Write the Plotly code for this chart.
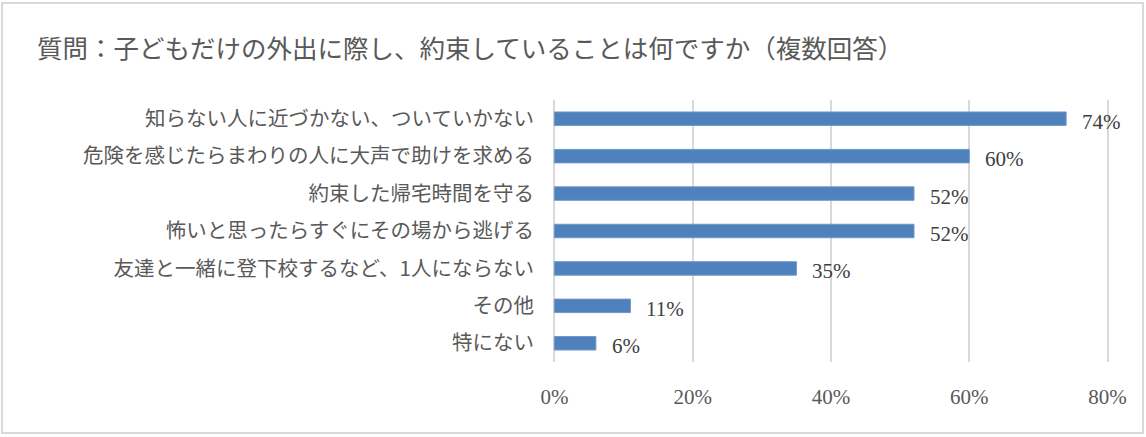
import plotly.graph_objects as go

categories = [
    "知らない人に近づかない、ついていかない",
    "危険を感じたらまわりの人に大声で助けを求める",
    "約束した帰宅時間を守る",
    "怖いと思ったらすぐにその場から逃げる",
    "友達と一緒に登下校するなど、1人にならない",
    "その他",
    "特にない",
]
values = [74, 60, 52, 52, 35, 11, 6]
value_labels = ["74%", "60%", "52%", "52%", "35%", "11%", "6%"]
x_ticks = [0, 20, 40, 60, 80]
x_tick_labels = ["0%", "20%", "40%", "60%", "80%"]
title_text = "質問：子どもだけの外出に際し、約束していることは何ですか（複数回答）"

W, H = 1146, 437
L, R, T, B = 553, W - 1109, 100, H - 362
SERIF = "Liberation Serif, DejaVu Serif, serif"
SANS = "Noto Sans CJK JP"

fig = go.Figure()
fig.add_trace(go.Bar(
    y=categories, x=values, orientation="h",
    marker=dict(color="#4F81BD", line=dict(color="#6F97CB", width=1)),
    width=0.36, hoverinfo="skip",
))
for c, v, t in zip(categories, values, value_labels):
    fig.add_annotation(x=v, y=c, text=t, showarrow=False, xanchor="left",
                       xshift=14, yshift=-3,
                       font=dict(family=SERIF, size=21, color="#404040"))

pw, ph = W - L - R, H - T - B
def px(xp): return (xp - L) / pw
def py(yp): return (H - B - yp) / ph

fig.add_shape(type="rect", xref="paper", yref="paper",
              x0=px(2), x1=px(1143), y0=py(433), y1=py(3),
              line=dict(color="#D9D9D9", width=2), fillcolor="rgba(0,0,0,0)", layer="below")

fig.add_annotation(xref="paper", yref="paper", x=px(35), y=py(47), xanchor="left", yanchor="middle",
                   text=title_text, showarrow=False,
                   font=dict(family=SANS, size=25.5, color="#595959"))

fig.update_layout(
    width=W, height=H,
    margin=dict(l=L, r=R, t=T, b=B, pad=0),
    paper_bgcolor="white", plot_bgcolor="white",
    showlegend=False,
    xaxis=dict(range=[-0.2, 80.2], tickvals=x_ticks, ticktext=x_tick_labels,
               showgrid=True, gridcolor="#D9D9D9", gridwidth=2, zeroline=False,
               showline=False, ticks="outside", ticklen=16, tickcolor="rgba(0,0,0,0)",
               tickfont=dict(family=SERIF, size=21, color="#595959"),
               fixedrange=True),
    yaxis=dict(autorange="reversed", showgrid=False, zeroline=False, showline=False,
               ticks="outside", ticklen=14, tickcolor="rgba(0,0,0,0)",
               tickfont=dict(family=SANS, size=20.5, color="#595959"),
               fixedrange=True),
)
fig.write_html("out.html", config={"displayModeBar": False},
               post_script="document.body.style.margin='0';document.body.style.overflow='hidden';")
